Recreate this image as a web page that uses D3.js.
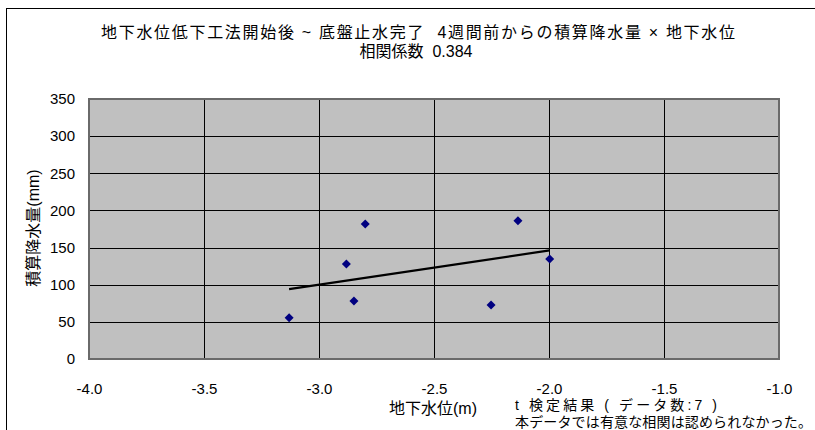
<!DOCTYPE html>
<html>
<head>
<meta charset="utf-8">
<style>
  body { margin: 0; background: #fff; }
  svg text { font-family: "Liberation Sans", Arial, "Noto Sans CJK JP", sans-serif; fill: #000; white-space: pre; }
  .grid line { stroke: #000; stroke-width: 1; }
</style>
</head>
<body>
<script src="https://cdn.jsdelivr.net/npm/d3@7"></script>
<script>
// data
let groundwater = [-3.130, -2.881, -2.848, -2.799, -2.135, -2.252, -1.997]; // 地下水位 (m)
let rainfall    = [55.6, 127.9, 78.1, 181.7, 186.2, 72.7, 134.6];          // 積算降水量 (mm)
let xTicks = [-4.0, -3.5, -3.0, -2.5, -2.0, -1.5, -1.0];
let yTicks = [0, 50, 100, 150, 200, 250, 300, 350];

let titleLines = ["地下水位低下工法開始後 ~ 底盤止水完了  4週間前からの積算降水量 × 地下水位", "相関係数  0.384"];
let noteLines = ["t 検定結果 ( データ数:7 )", "本データでは有意な相関は認められなかった。"];

let W = 815, H = 430;
let pL = 89, pR = 779, pT = 99, pB = 359; // plot area edges

let svg = d3.select("body").append("svg").attr("width", W).attr("height", H);

// outer chart border
svg.append("rect")
  .attr("x", 6.5).attr("y", 8.5).attr("width", W).attr("height", H)
  .attr("fill", "none").attr("stroke", "#000").attr("stroke-width", 1);

let x = d3.scaleLinear().domain([-4, -1]).range([pL, pR]);
let y = d3.scaleLinear().domain([0, 350]).range([pB, pT]);

// plot area
svg.append("rect")
  .attr("x", pL).attr("y", pT)
  .attr("width", pR - pL).attr("height", pB - pT)
  .attr("fill", "#c0c0c0");

let grid = svg.append("g").attr("class", "grid");
grid.selectAll(".h").data(yTicks.slice(1, -1)).enter().append("line")
  .attr("x1", pL).attr("x2", pR)
  .attr("y1", d => Math.round(y(d)) + 0.5).attr("y2", d => Math.round(y(d)) + 0.5);
grid.selectAll(".v").data(xTicks.slice(1, -1)).enter().append("line")
  .attr("y1", pT).attr("y2", pB)
  .attr("x1", d => Math.round(x(d)) + 0.5).attr("x2", d => Math.round(x(d)) + 0.5);

svg.append("rect")
  .attr("x", pL).attr("y", pT)
  .attr("width", pR - pL).attr("height", pB - pT)
  .attr("fill", "none").attr("stroke", "#6a6a6a").attr("stroke-width", 2);

// axes (labels only)
let xAxis = svg.append("g")
  .attr("transform", "translate(0," + pB + ")")
  .call(d3.axisBottom(x).tickValues(xTicks).tickSize(0).tickPadding(24).tickFormat(d => d.toFixed(1)));
xAxis.select(".domain").remove();
xAxis.selectAll("text").style("font-size", "15px");

let yAxis = svg.append("g")
  .attr("transform", "translate(" + pL + ",0)")
  .call(d3.axisLeft(y).tickValues(yTicks).tickSize(0).tickPadding(14));
yAxis.select(".domain").remove();
yAxis.selectAll("text").style("font-size", "15px");

// trend line (least squares from the points)
let mx = d3.mean(groundwater), my = d3.mean(rainfall);
let sxy = d3.sum(groundwater, (v, i) => (v - mx) * (rainfall[i] - my));
let sxx = d3.sum(groundwater, v => (v - mx) * (v - mx));
let slope = sxy / sxx, icpt = my - slope * mx;
let xMin = d3.min(groundwater), xMax = d3.max(groundwater);
svg.append("line")
  .attr("x1", x(xMin)).attr("y1", y(slope * xMin + icpt))
  .attr("x2", x(xMax)).attr("y2", y(slope * xMax + icpt))
  .attr("stroke", "#000").attr("stroke-width", 2.2);

// markers
let pts = groundwater.map((v, i) => ({ gx: v, r: rainfall[i] }));
svg.append("g").selectAll("path").data(pts).enter().append("path")
  .attr("d", "M0,-4.5L4.5,0L0,4.5L-4.5,0Z")
  .attr("transform", d => "translate(" + x(d.gx) + "," + y(d.r) + ")")
  .attr("fill", "#000080");

// titles
svg.append("text").attr("x", 418).attr("y", 38).attr("text-anchor", "middle")
  .style("font-size", "16px").attr("textLength", 634).attr("lengthAdjust", "spacing")
  .text(titleLines[0]);
svg.append("text").attr("x", 416).attr("y", 57).attr("text-anchor", "middle")
  .style("font-size", "16px").text(titleLines[1]);

// axis titles
svg.append("text").attr("x", 433).attr("y", 414).attr("text-anchor", "middle")
  .style("font-size", "16px").text("地下水位(m)");
svg.append("text").attr("transform", "translate(39,228) rotate(-90)").attr("text-anchor", "middle")
  .style("font-size", "16px").text("積算降水量(mm)");

// t-test note
svg.append("text").attr("x", 515).attr("y", 410).style("font-size", "14px")
  .attr("textLength", 202).attr("lengthAdjust", "spacing").text(noteLines[0]);
svg.append("text").attr("x", 515).attr("y", 427).style("font-size", "14px")
  .attr("textLength", 297).attr("lengthAdjust", "spacing").text(noteLines[1]);
</script>
</body>
</html>
